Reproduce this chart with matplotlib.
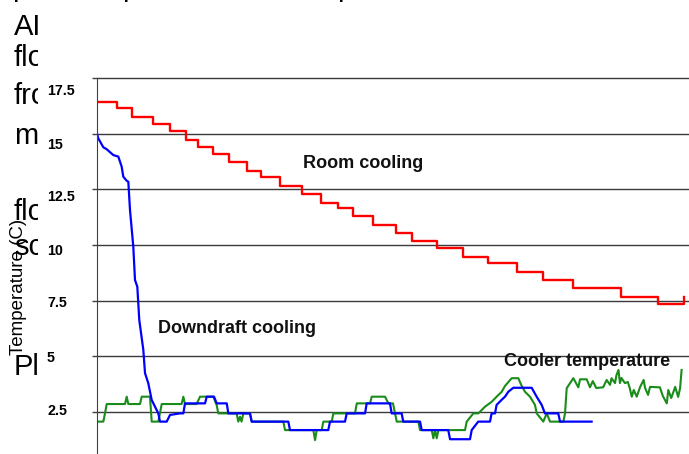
import matplotlib.pyplot as plt
from matplotlib.patches import Rectangle
from matplotlib.transforms import ScaledTranslation

# time in minutes, temperature in C
room_t = [0, 4.05, 7.1, 11.35, 14.8, 18.0, 20.5, 23.5, 26.8, 30.4, 33.2, 37.1, 41.6, 45.4,
          48.9, 51.9, 55.9, 60.6, 63.9, 68.9, 74.2, 79.3, 85.1, 90.4, 96.5, 106.2, 113.7,
          118.2, 119.0]
room_v = [16.44, 16.17, 15.74, 15.42, 15.12, 14.72, 14.38, 14.07, 13.73, 13.32, 13.04, 12.65,
          12.28, 11.90, 11.65, 11.30, 10.91, 10.54, 10.17, 9.87, 9.48, 9.18, 8.80, 8.43, 8.06,
          7.68, 7.35, 7.35, 7.68]

down_t = [0, 0.26, 1.28, 1.97, 3.30, 4.32, 5.0, 5.33, 6.0, 6.35, 6.69, 7.36, 7.70, 8.17, 8.57,
          9.39, 9.73, 10.4, 11.09, 11.76, 12.43, 12.77, 14.13, 14.80, 16.83, 17.5, 17.84, 21.9,
          22.24, 23.72, 24.26, 26.3, 26.62, 31.0, 31.36, 38.78, 39.12, 46.88, 47.23, 50.27,
          50.62, 54.33, 54.67, 59.39, 59.73, 61.75, 62.08, 65.48, 65.82, 71.2, 71.56, 75.61,
          75.95, 77.27, 79.66, 79.99, 80.68, 81.0, 82.03, 82.7, 83.37, 84.38, 88.11, 89.12,
          90.14, 90.8, 93.5, 93.86, 100.26]
down_v = [15.0, 14.79, 14.39, 14.30, 14.04, 13.97, 13.52, 13.07, 12.89, 12.84, 11.57, 9.92,
          8.43, 8.13, 6.63, 5.29, 4.25, 3.79, 3.04, 2.74, 2.44, 2.07, 2.07, 2.37, 2.44, 2.44,
          2.89, 2.89, 3.19, 3.19, 2.89, 2.89, 2.44, 2.44, 2.07, 2.07, 1.69, 1.69, 2.07, 2.07,
          2.44, 2.44, 2.89, 2.89, 2.44, 2.44, 2.07, 2.07, 1.69, 1.69, 1.28, 1.28, 1.69, 2.07,
          2.07, 2.44, 2.44, 2.82, 3.05, 3.19, 3.41, 3.59, 3.59, 3.19, 2.82, 2.44, 2.44, 2.07,
          2.07]

cool_t = [0.26, 1.28, 1.62, 1.97, 5.68, 6.02, 6.35, 8.72, 9.06, 10.74, 11.09, 12.43, 13.12,
          17.15, 17.5, 17.84, 20.2, 20.88, 23.58, 24.25, 24.59, 28.3, 28.64, 28.99, 29.3, 29.66,
          31.02, 31.36, 37.77, 38.11, 43.85, 44.2, 44.54, 45.55, 45.88, 47.58, 47.91, 52.3,
          52.66, 55.35, 55.69, 58.39, 59.06, 60.0, 60.41, 60.76, 65.14, 65.48, 67.85, 68.18,
          68.52, 68.87, 69.19, 74.6, 74.94, 76.28, 77.29, 78.65, 80.0, 81.01, 82.03, 82.7,
          84.06, 85.4, 86.09, 86.76, 87.77, 88.78, 89.13, 90.47, 91.16, 91.83, 94.53, 94.87,
          95.21, 96.55, 97.57, 97.91, 99.27, 99.93, 100.5, 101.2, 102.6, 103.3, 104.0, 104.3,
          105.0, 105.3, 105.7, 106.0, 106.3, 107.0, 107.6, 108.0, 108.4, 108.8, 109.4, 110.1,
          110.8, 111.1, 111.7, 112.1, 114.1, 114.7, 115.5, 115.8, 116.4, 117.2, 117.8, 118.2,
          118.5]
cool_v = [2.07, 2.07, 2.44, 2.86, 2.86, 3.19, 2.86, 2.86, 3.19, 3.19, 2.07, 2.07, 2.86,
          2.86, 3.19, 2.86, 2.86, 3.19, 3.19, 2.82, 2.44, 2.44, 2.07, 2.29, 2.07, 2.44,
          2.44, 2.07, 2.07, 1.69, 1.69, 1.24, 1.69, 1.69, 2.07, 2.07, 2.44, 2.44,
          2.89, 2.89, 3.19, 3.19, 2.89, 2.89, 2.44, 2.07, 2.07, 1.69, 1.69, 1.32,
          1.69, 1.32, 1.69, 1.69, 2.07, 2.44, 2.44, 2.74, 2.96, 3.19, 3.41, 3.67,
          4.02, 4.02, 3.67, 3.41, 3.19, 2.82, 2.44, 2.07, 2.44, 2.07, 2.07, 2.44,
          3.57, 4.02, 3.61, 3.97, 3.97, 3.61, 3.89, 3.58, 3.61, 3.94, 3.72, 4.02,
          3.80, 4.16, 4.39, 3.80, 4.03, 3.80, 3.85, 3.57, 3.19, 3.49, 3.19, 3.63,
          3.94, 3.58, 3.27, 3.63, 3.61, 3.22, 2.89, 3.49, 3.13, 3.63, 3.18, 3.58,
          4.39]

yticks = [2.5, 5, 7.5, 10, 12.5, 15, 17.5]
ytick_labels = ['2.5', '5', '7.5', '10', '12.5', '15', '17.5']
# label nudges in px (labels sit a bit off their gridlines in the original)
label_shift = [3, 0, -1, -4, -6, -10, -11]

# bits of slide text peeking out from behind the chart
slide_words = ['AI', 'flo', 'fro', 'm', 'flo', 'sc', 'Pl']
slide_base = [35, 66, 104, 144, 220, 255, 375]

W, H = 689, 454
fig = plt.figure(figsize=(W / 100, H / 100), dpi=100)

for w, b in zip(slide_words, slide_base):
    fig.text(14 / W, 1 - b / H, w, fontsize=21, family='Liberation Sans',
             va='baseline', ha='left', zorder=1)
# descenders of the slide line cut off at the top edge
for x, s in [(12, 'p'), (122, 'p'), (337, 'p'), (453, ',')]:
    fig.text(x / W, 1 + 4 / H, s, fontsize=21, family='Liberation Sans',
             va='baseline', ha='left', zorder=1)

fig.add_artist(Rectangle((38 / W, 0), 1, (H - 8) / H, transform=fig.transFigure,
                         facecolor='white', edgecolor='none', zorder=2))

ppu = 22.27  # px per degree
top_px, grid_top = 76, 78
ax = fig.add_axes([97 / W, 0, (W - 97) / W, (H - top_px) / H])
ax.set_zorder(3)
ax.set_facecolor('white')
ax.set_ylim(17.5 - (H - grid_top) / ppu, 17.5 + (grid_top - top_px) / ppu)
ax.set_xlim(0, 120)

ax.step(room_t, room_v, where='post', color='#ff0000', lw=1.7)
ax.plot(cool_t, cool_v, color='#1a8c1a', lw=1.5)
ax.plot(down_t, down_v, color='#0000ff', lw=1.6)

ax.set_yticks(yticks)
ax.set_yticklabels(ytick_labels)
ax.set_xticks([])
ax.tick_params(axis='y', direction='out', length=3.6, width=1, color='#404040',
               pad=32.4, labelsize=10.3)
for lab, dy in zip(ax.get_yticklabels(), label_shift):
    lab.set_ha('left')
    lab.set_fontweight('bold')
    lab.set_family('Liberation Sans')
    lab.set_transform(lab.get_transform() + ScaledTranslation(0, dy / 100, fig.dpi_scale_trans))

ax.grid(axis='y', color='#3a3a3a', lw=1)
for s in ['top', 'right', 'bottom']:
    ax.spines[s].set_visible(False)
ax.spines['left'].set_color('#404040')
ax.spines['left'].set_bounds(ax.get_ylim()[0], 17.5)

kw = dict(fontsize=13, fontweight='bold', family='Liberation Sans', color='#111111',
          va='center', ha='left')
ax.text(41.8, 13.68, 'Room cooling', **kw)
ax.text(12.4, 6.27, 'Downdraft cooling', **kw)
ax.text(82.5, 4.75, 'Cooler temperature', **kw)

ax.set_ylabel('Temperature (C)', fontsize=13.5, family='Liberation Sans')
ax.yaxis.label.set_va('center')
ax.yaxis.set_label_coords((18 - 97) / (W - 97), (H - 287) / (H - top_px))

fig.savefig('out.png', dpi=100)
